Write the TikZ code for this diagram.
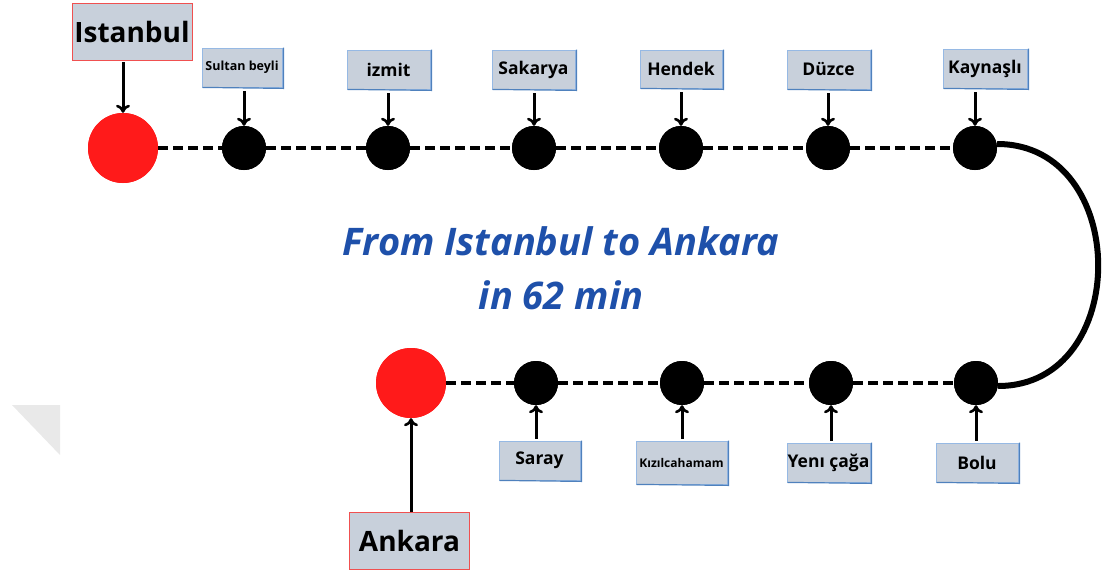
\documentclass[tikz,border=0pt]{standalone}
\usepackage{fontspec}
\setmainfont{Open Sans}
\usetikzlibrary{arrows.meta}
\definecolor{boxfill}{RGB}{200,208,219}
\definecolor{boxline}{RGB}{150,185,228}
\definecolor{boxshadow}{RGB}{79,129,189}
\definecolor{redline}{RGB}{240,80,80}
\definecolor{stopred}{RGB}{255,26,26}
\definecolor{titleblue}{RGB}{30,80,170}
\definecolor{faint}{RGB}{233,233,233}
\tikzset{
  lbl/.style={draw=boxline, line width=0.8pt, fill=boxfill, inner sep=0pt, align=center, font=\bfseries},
  city/.style={draw=redline, line width=0.8pt, fill=boxfill, inner sep=0pt, minimum width=120pt, minimum height=57pt, font=\bfseries\fontsize{28}{30}\selectfont},
  terminus/.style={circle, fill=stopred, minimum size=70pt, inner sep=0pt},
  stop/.style={circle, fill=black, minimum size=44pt, inner sep=0pt},
  track/.style={line width=3.2pt, dash pattern=on 10pt off 5pt},
  pointer/.style={line width=3pt, -{To[length=8pt,width=14pt,line width=2.6pt]}},
  mid/.style={font=\bfseries\fontsize{17.5}{20}\selectfont},
}
\begin{document}
\begin{tikzpicture}[x=1pt,y=-1pt]
\useasboundingbox (0,0) rectangle (1105,573);
\fill[faint] (12,405) -- (60,405) -- (60,455) -- cycle;

% top row
\node[terminus] (ist) at (123,148) {};
\node[stop] (s1) at (244,148) {};
\node[stop] (s2) at (388,148) {};
\node[stop] (s3) at (534,148) {};
\node[stop] (s4) at (681,148) {};
\node[stop] (s5) at (828,148) {};
\node[stop] (s6) at (975,148) {};
% bottom row
\node[terminus] (ank) at (411,383) {};
\node[stop] (b1) at (536,383) {};
\node[stop] (b2) at (682,383) {};
\node[stop] (b3) at (831,383) {};
\node[stop] (b4) at (976,383) {};

% labels
\node[city] (istl) at (132,31.5) {Istanbul};
\node[city] (ankl) at (409.5,541) {Ankara};
\node[lbl, minimum width=80pt, minimum height=39pt, font=\bfseries\fontsize{12.5}{14}\selectfont] (l1) at (242,67.5) {Sultan beyli};
\node[lbl, mid, minimum width=83pt, minimum height=39pt] (l2) at (388.5,69.5) {izmit};
\node[lbl, mid, minimum width=83pt, minimum height=39pt] (l3) at (533.5,69.5) {Sakarya};
\node[lbl, mid, minimum width=82pt, minimum height=38pt] (l4) at (681,69) {Hendek};
\node[lbl, mid, minimum width=83pt, minimum height=39pt] (l5) at (828.5,69.5) {Düzce};
\node[lbl, mid, minimum width=84pt, minimum height=39pt] (l6) at (985,68.5) {Kaynaşlı};
\node[lbl, mid, minimum width=81pt, minimum height=39pt] (m1) at (539.5,460.5) {Saray};
\node[lbl, minimum width=91pt, minimum height=43pt, font=\bfseries\fontsize{12}{14}\selectfont] (m2) at (681.5,462.5) {Kızılcahamam};
\node[lbl, mid, minimum width=83pt, minimum height=39pt] (m3) at (828.5,462.5) {Yenı çağa};
\node[lbl, mid, minimum width=82pt, minimum height=39pt] (m4) at (977,462.5) {Bolu};

\foreach \n in {l1,l2,l3,l4,l5,l6,m1,m2,m3,m4}
  \draw[boxshadow, line width=1.2pt] ([xshift=1pt]\n.south west) -- ([xshift=1pt,yshift=-1pt]\n.south east) -- ([xshift=1pt]\n.north east);

% title
\node[text=titleblue, font=\bfseries\itshape\fontsize{38}{54}\selectfont, align=center] (title) at (561,268) {From Istanbul to Ankara\\in 62 min};

% track
\draw[track] (ist) -- (s1) -- (s2) -- (s3) -- (s4) -- (s5) -- (s6);
\draw[track] (ank) -- (b1) -- (b2) -- (b3) -- (b4);
\draw[line width=6pt] ([yshift=4pt]s6.east) .. controls +(134,0) and +(134,0) .. ([yshift=-3pt]b4.east);
\node[terminus] at (ist) {};
\node[terminus] at (ank) {};
\foreach \n in {s1,s2,s3,s4,s5,s6,b1,b2,b3,b4}
  \node[stop] at (\n) {};

% pointers
\draw[pointer, shorten <=2pt] (istl.south -| ist.north) -- (ist.north);
\draw[pointer, shorten <=4pt] (l1.south -| s1.north) -- (s1.north);
\draw[pointer, shorten <=4pt] (l2.south -| s2.north) -- (s2.north);
\draw[pointer, shorten <=4pt] (l3.south -| s3.north) -- (s3.north);
\draw[pointer, shorten <=4pt] (l4.south -| s4.north) -- (s4.north);
\draw[pointer, shorten <=4pt] (l5.south -| s5.north) -- (s5.north);
\draw[pointer, shorten <=4pt] (l6.south -| s6.north) -- (s6.north);
\draw[pointer, shorten <=2pt] (m1.north -| b1.south) -- (b1.south);
\draw[pointer, shorten <=2pt] (m2.north -| b2.south) -- (b2.south);
\draw[pointer, shorten <=2pt] (m3.north -| b3.south) -- (b3.south);
\draw[pointer, shorten <=2pt] (m4.north -| b4.south) -- (b4.south);
\draw[pointer] (ankl.north -| ank.south) -- (ank.south);
\end{tikzpicture}
\end{document}
